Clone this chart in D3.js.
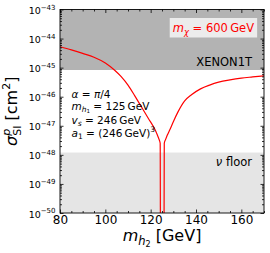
<!DOCTYPE html>
<html><head><meta charset="utf-8">
<script src="https://cdn.jsdelivr.net/npm/d3@7"></script>
<style>
html,body{margin:0;padding:0;background:#fff;}
svg text{font-family:"DejaVu Sans",sans-serif;white-space:pre;}
</style></head>
<body><svg id="c" width="270" height="253"></svg>
<script>
// ---- data ----
const mH2 = [80, 85, 90, 95, 100, 104, 107, 110, 113, 116, 119, 121.9, 123, 123.7, 124.2, 124.35,
             125.85, 126.0, 126.6, 127.3, 128.5, 130, 132, 135, 138, 142, 146, 150, 155, 160, 165, 170];
const sigmaSI = [5.25e-45, 4.07e-45, 3.09e-45, 2.29e-45, 1.45e-45, 8.3e-46, 4.9e-46, 2.51e-46, 1.07e-46,
                 4.37e-47, 1.78e-47, 7.4e-48, 4.7e-48, 3.4e-48, 2.5e-48, 1e-52,
                 1e-52, 2.5e-48, 3.4e-48, 4.7e-48, 7.4e-48, 1.38e-47, 2.95e-47, 7.2e-47, 1.17e-46,
                 1.86e-46, 2.51e-46, 3.16e-46, 3.8e-46, 4.37e-46, 4.8e-46, 5.25e-46];
const xTicks = [80, 100, 120, 140, 160];
const xMinorTicks = [85, 90, 95, 105, 110, 115, 125, 130, 135, 145, 150, 155, 165, 170];
const yTickExps = [-43, -44, -45, -46, -47, -48, -49, -50];
const xenonLimit = 8.3e-46;
const nuFloor = 1.2e-48;
const xDomain = [80, 170];
const yDomain = [1e-50, 1e-43];
const mChi = 600;
const params = { alpha: "π/4", mh1: 125, vs: 246, a1: 246 };

// ---- layout ----
const L = 60, R = 264, T = 9.5, B = 213;
const svg = d3.select("#c");
const x = d3.scaleLinear().domain(xDomain).range([L, R]);
const y = d3.scaleLog().domain(yDomain).range([B, T]);

// shaded regions
svg.append("rect").attr("x", L).attr("width", R - L)
  .attr("y", y(yDomain[1])).attr("height", y(xenonLimit) - y(yDomain[1]))
  .attr("fill", "#b3b3b3");
svg.append("rect").attr("x", L).attr("width", R - L)
  .attr("y", y(nuFloor)).attr("height", y(yDomain[0]) - y(nuFloor))
  .attr("fill", "#e5e5e5");

// curve
svg.append("clipPath").attr("id", "clip").append("rect")
  .attr("x", L).attr("y", T).attr("width", R - L).attr("height", B - T);
const pts = mH2.map((m, i) => [m, sigmaSI[i]]);
svg.append("path").datum(pts)
  .attr("clip-path", "url(#clip)")
  .attr("d", d3.line().x(d => x(d[0])).y(d => y(d[1])).curve(d3.curveMonotoneX))
  .attr("fill", "none").attr("stroke", "#ff0000").attr("stroke-width", 1.2);

// rich text helper
function rich(g, parts) {
  let prev = 0;
  parts.forEach(p => {
    const off = p.off || 0;
    const ts = g.append("tspan").text(p.t)
      .attr("font-size", p.sz)
      .attr("font-style", p.i ? "italic" : "normal")
      .attr("dy", off - prev);
    if (p.dx) ts.attr("dx", p.dx);
    prev = off;
  });
  return g;
}

// axes ticks (inward, all four sides)
function styleAxis(g) { g.select(".domain").remove(); g.selectAll("line").attr("stroke", "#000").attr("stroke-width", 0.8); }
svg.append("g").attr("transform", `translate(0,${B})`)
  .call(d3.axisBottom(x).tickValues(xTicks).tickSizeInner(-3.5).tickSizeOuter(0).tickPadding(2.5).tickFormat(d3.format("d")))
  .call(styleAxis)
  .call(g => g.selectAll("text").attr("font-size", 12).attr("fill", "#000").attr("font-family", "DejaVu Sans"));
svg.append("g").attr("transform", `translate(0,${B})`)
  .call(d3.axisBottom(x).tickValues(xMinorTicks).tickSizeInner(-2).tickSizeOuter(0).tickFormat(""))
  .call(styleAxis);
svg.append("g").attr("transform", `translate(0,${T})`)
  .call(d3.axisTop(x).tickValues(xTicks).tickSizeInner(-3.5).tickSizeOuter(0).tickFormat(""))
  .call(styleAxis);
svg.append("g").attr("transform", `translate(0,${T})`)
  .call(d3.axisTop(x).tickValues(xMinorTicks).tickSizeInner(-2).tickSizeOuter(0).tickFormat(""))
  .call(styleAxis);

const yMajor = yTickExps.map(e => Math.pow(10, e));
const yMinor = [];
yTickExps.slice(1).forEach(e => { for (let k = 2; k <= 9; k++) yMinor.push(k * Math.pow(10, e)); });
svg.append("g").attr("transform", `translate(${L},0)`)
  .call(d3.axisLeft(y).tickValues(yMajor).tickSizeInner(-3.5).tickSizeOuter(0).tickFormat(""))
  .call(styleAxis);
svg.append("g").attr("transform", `translate(${L},0)`)
  .call(d3.axisLeft(y).tickValues(yMinor).tickSizeInner(-2).tickSizeOuter(0).tickFormat(""))
  .call(styleAxis);
svg.append("g").attr("transform", `translate(${R},0)`)
  .call(d3.axisRight(y).tickValues(yMajor).tickSizeInner(-3.5).tickSizeOuter(0).tickFormat(""))
  .call(styleAxis);
svg.append("g").attr("transform", `translate(${R},0)`)
  .call(d3.axisRight(y).tickValues(yMinor).tickSizeInner(-2).tickSizeOuter(0).tickFormat(""))
  .call(styleAxis);

// y tick labels
yTickExps.forEach(e => {
  const t = svg.append("text").attr("x", 55.5).attr("y", y(Math.pow(10, e)) + 4.5)
    .attr("text-anchor", "end").attr("fill", "#000");
  rich(t, [{ t: "10", sz: 9.5 }, { t: "\u2212" + Math.abs(e), sz: 7, off: -4.5 }]);
});

// spine
svg.append("rect").attr("x", L).attr("y", T).attr("width", R - L).attr("height", B - T)
  .attr("fill", "none").attr("stroke", "#000").attr("stroke-width", 0.9);

// axis labels
const xl = svg.append("text").attr("x", (L + R) / 2).attr("y", 241).attr("text-anchor", "middle");
rich(xl, [{ t: "m", sz: 16, i: true }, { t: "h", sz: 11.5, i: true, off: 3.5 }, { t: "2", sz: 8, off: 6 },
          { t: " [GeV]", sz: 16, off: 0 }]);
const yl = svg.append("text").attr("transform", `translate(17,${(T + B) / 2}) rotate(-90)`).attr("text-anchor", "middle");
rich(yl, [{ t: "σ", sz: 16, i: true }, { t: "p", sz: 11, i: true, off: -7 },
          { t: "SI", sz: 11, off: 3.5, dx: -7 }, { t: " [cm", sz: 16, off: 0 }, { t: "2", sz: 11, off: -7 }, { t: "]", sz: 16, off: 0 }]);

// region labels
svg.append("text").attr("x", 252).attr("y", 66).attr("text-anchor", "end").attr("font-size", 11.5).text("XENON1T");
const nu = svg.append("text").attr("x", 252).attr("y", 166).attr("text-anchor", "end");
rich(nu, [{ t: "ν", sz: 11.5, i: true }, { t: " floor", sz: 11.5 }]);

// legend box
const lg = svg.append("g");
const lt = lg.append("text").attr("x", 254).attr("y", 32).attr("text-anchor", "end").attr("fill", "#ff0000");
rich(lt, [{ t: "m", sz: 11.5, i: true }, { t: "χ", sz: 8.5, i: true, off: 2.5 }, { t: " = " + mChi + "\u2009GeV", sz: 11.5, off: 0 }]);
const bb = lt.node().getBBox();
lg.insert("rect", "text").attr("x", bb.x - 3).attr("y", 18).attr("width", bb.width + 6).attr("height", 19.5)
  .attr("fill", "#ececec");

// parameter block
const lines = [
  [{ t: "α", i: true }, { t: " = " }, { t: "π", i: true }, { t: "/4" }],
  [{ t: "m", i: true }, { t: "h", i: true, sub: 1 }, { t: "1", sub: 2 }, { t: " = " + params.mh1 + "\u2009GeV" }],
  [{ t: "v", i: true }, { t: "s", i: true, sub: 1 }, { t: " = " + params.vs + "\u2009GeV" }],
  [{ t: "a", i: true }, { t: "1", sub: 1 }, { t: " = (" + params.a1 + "\u2009GeV)" }, { t: "3", sup: 1 }]
];
const baseY = [98, 110, 123.5, 136.5];
lines.forEach((ln, k) => {
  const t = svg.append("text").attr("x", 71.5).attr("y", baseY[k]).attr("fill", "#000");
  rich(t, ln.map(p => ({
    t: p.t, i: p.i,
    sz: p.sub === 1 ? 7.5 : p.sub === 2 ? 5.5 : p.sup ? 7.5 : 10.5,
    off: p.sub === 1 ? 2.0 : p.sub === 2 ? 2.8 : p.sup ? -4.5 : 0
  })));
});
</script></body></html>
